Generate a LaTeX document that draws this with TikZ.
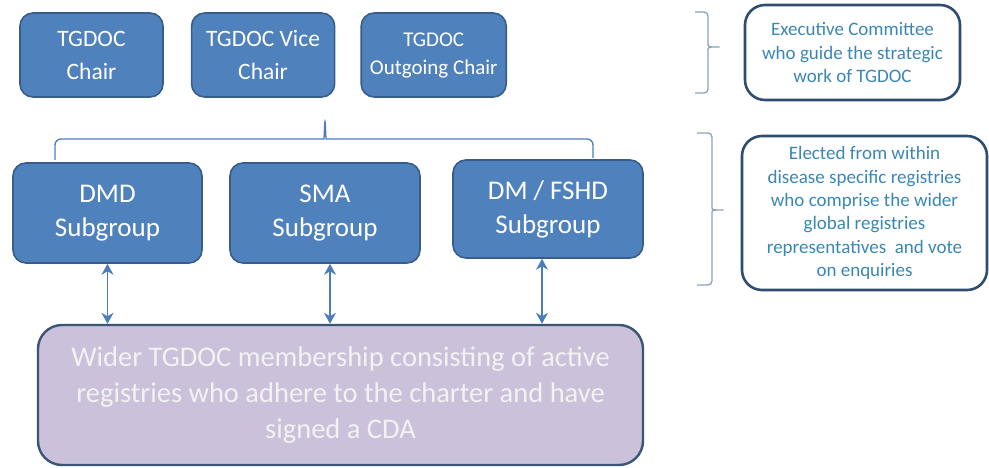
\documentclass[tikz,border=0pt]{standalone}
\usepackage{fontspec}
\setmainfont{Carlito}
\usetikzlibrary{positioning,arrows.meta}
\definecolor{boxblue}{HTML}{4F81BD}
\definecolor{boxline}{HTML}{385D8A}
\definecolor{memberfill}{HTML}{CCC1DA}
\definecolor{memberline}{HTML}{3B5675}
\definecolor{notetext}{HTML}{3A87B5}
\definecolor{noteline}{HTML}{2F4D72}
\definecolor{arrcol}{HTML}{4A7EBB}
\definecolor{notebracecol}{HTML}{8AA2C0}

\begin{document}
\begin{tikzpicture}[
  x=1pt, y=-1pt,
  node distance=27pt,
  role/.style={draw=boxline, line width=1.6pt, fill=boxblue, rounded corners=13pt, align=center, text=white, inner sep=0pt, minimum width=143pt, minimum height=84pt, font=\fontsize{23.5}{33}\selectfont},
  sub/.style={role, minimum width=190pt, minimum height=100pt, font=\fontsize{27}{34}\selectfont},
  member/.style={draw=memberline, line width=2.4pt, fill=memberfill, rounded corners=24pt, align=center, text=white!95!black, inner sep=0pt, font=\fontsize{28.5}{36}\selectfont},
  note/.style={draw=noteline, line width=2.6pt, fill=white, rounded corners=20pt, align=center, text=notetext, inner sep=0pt, font=\fontsize{19}{23.3}\selectfont},
  arr/.style={{Stealth[length=11pt,width=12pt,inset=3.5pt]}-{Stealth[length=11pt,width=12pt,inset=3.5pt]}, draw=arrcol, line width=1.3pt},
  grpbrace/.style={draw=arrcol, line width=1.3pt, rounded corners=6pt},
  notebrace/.style={draw=notebracecol, line width=1.3pt, rounded corners=4pt}
]
\useasboundingbox (0,0) rectangle (989,468);

% executive row
\node[role] (chair) at (91.5,55) {TGDOC\\Chair};
\node[role, right=of chair] (vice) {TGDOC Vice\\Chair};
\node[role, right=25pt of vice, minimum width=145pt, font=\fontsize{21}{28}\selectfont] (outgoing) {TGDOC\\Outgoing Chair};

% subgroups
\node[sub, minimum width=189pt] (dmd) at (107.5,213) {DMD\\Subgroup};
\node[sub] (sma) at (325,213) {SMA\\Subgroup};
\node[sub, minimum height=98pt] (fshd) at (548,209) {DM / FSHD\\Subgroup};

\node[member, minimum width=605pt, minimum height=140pt] (wider) at (340.5,395) {Wider TGDOC membership consisting of active\\registries who adhere to the charter and have\\signed a CDA};

% notes on the right
\node[note, minimum width=215pt, minimum height=95pt] (exec) at (852.5,52.5) {Executive Committee\\who guide the strategic\\work of TGDOC};
\node[note, minimum width=245pt, minimum height=154pt] (elected) at (864.5,213) {Elected from within\\disease specific registries\\who comprise the wider\\global registries\\representatives\ \ and vote\\on enquiries};

% braces
\draw[grpbrace] (55,160) |- (318,139) .. controls (324,139) .. (325,118) .. controls (326,139) .. (332,139) -| (593,158);
\draw[notebrace] (695,12) -| (708,41) .. controls (708,47) .. (722,47) .. controls (708,47) .. (708,53) |- (695,93);
\draw[notebrace] (697,133) -| (712,203) .. controls (712,210) .. (726,210) .. controls (712,210) .. (712,217) |- (697,285);

\draw[arr] (dmd.south) -- (dmd.south |- wider.north);
\draw[arr] ([xshift=5pt]sma.south) -- ([xshift=5pt]sma.south |- wider.north);
\draw[arr] ([xshift=-6pt]fshd.south) -- ([xshift=-6pt]fshd.south |- wider.north);
\end{tikzpicture}
\end{document}
